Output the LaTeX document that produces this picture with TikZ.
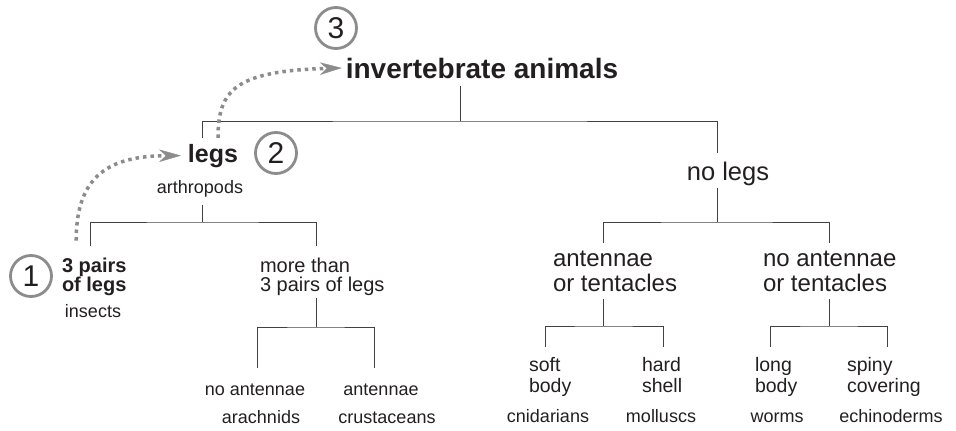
\documentclass[tikz,border=0pt]{standalone}
\usepackage{fontspec}
\setmainfont{Liberation Sans}
\usetikzlibrary{arrows.meta, positioning}
\definecolor{ink}{HTML}{231F20}
\definecolor{hint}{HTML}{8C8C8C}
\tikzstyle{every node}=[inner sep=0pt, text=ink]
\tikzstyle{tree}=[draw=ink!85, line width=0.8pt]
\tikzstyle{hop}=[draw=hint, line width=3.5pt, dash pattern=on 3.5pt off 4pt, ->]
\tikzstyle{num}=[circle, draw=hint, line width=2.8pt, minimum size=41pt, font=\fontsize{30}{30}\selectfont]
\tikzstyle{topkey}=[font=\fontsize{28}{30}\selectfont\bfseries, anchor=base]
\tikzstyle{key}=[font=\fontsize{25.5}{27}\selectfont, anchor=base]
\tikzstyle{subkey}=[font=\fontsize{24}{25}\selectfont, anchor=base west, align=left, outer sep=7.5pt]
\tikzstyle{leg}=[font=\fontsize{20}{19}\selectfont, anchor=base west, align=left]
\tikzstyle{trait}=[font=\fontsize{19.5}{21}\selectfont, anchor=base west, align=left, outer sep=10pt]
\tikzstyle{group}=[font=\fontsize{18}{20}\selectfont, anchor=base]

\begin{document}
\begin{tikzpicture}[x=1pt, y=-1pt, >={Stealth[length=22pt, width=12.5pt, inset=7pt, line width=0.4pt, fill=hint]}]
    \useasboundingbox (0,0) rectangle (956,431);
    % headings
    \node[topkey, outer sep=8pt] (inv) at (482,78) {invertebrate animals};
    \node[key, font=\fontsize{25}{27}\selectfont\bfseries, outer sep=6pt] (legs) at (213,162) {legs};
    \node[group, outer sep=8pt] (arth) at (200,193) {arthropods};
    \node[key, outer sep=3pt] (nolegs) at (728,180) {no legs};
    % legs branch (west anchors sit one outer sep left of the text)
    \node[leg, font=\fontsize{20}{19}\selectfont\bfseries, outer sep=12pt] (pairs) at (50,291) {3 pairs\\of legs};
    \node[group] (insects) at (93,317) {insects};
    \node[leg, outer sep=3pt] (more) at (257,291) {more than\\3 pairs of legs};
    \node[group, outer sep=15pt] (noant) at (255,395) {no antennae};
    \node[group, outer sep=15pt] (ant) at (381,395) {antennae};
    \node[group] (arach) at (261,423) {arachnids};
    \node[group] (crust) at (387,423) {crustaceans};
    % no legs branch
    \node[subkey] (tent) at (545.5,291) {antennae\\or tentacles};
    \node[subkey] (notent) at (755.5,291) {no antennae\\or tentacles};
    \node[trait] (soft) at (519,392) {soft\\body};
    \node[trait] (hard) at (632,392) {hard\\shell};
    \node[trait] (long) at (745,392) {long\\body};
    \node[trait] (spiny) at (837,392) {spiny\\covering};
    \node[group] (cnid) at (548,422) {cnidarians};
    \node[group] (moll) at (661,422) {molluscs};
    \node[group] (worms) at (777,422) {worms};
    \node[group] (echi) at (891,422) {echinoderms};
    % step numbers
    \node[num] (n1) at (31,276) {1};
    \node[num] (n2) at (276,153) {2};
    \node[num] (n3) at (336,28) {3};
    % forks
    \coordinate (f0) at (460,121);
    \coordinate (f1) at (202,222);
    \coordinate (f2) at (316,327);
    \coordinate (f3) at (717,222);
    \coordinate (f4) at (603,326);
    \coordinate (f5) at (829,326);
    \draw[tree] (inv.south -| f0) -- (f0);
    \draw[tree, shorten >=5.5pt] (legs.north -| f1) |- (f0) -| (nolegs.north -| f3);
    \draw[tree] (arth.south -| f1) -- (f1);
    \draw[tree, shorten >=9pt] ([xshift=-4pt]pairs.north) |- (f1) -| (more.north -| f2);
    \draw[tree] (more.south -| f2) -- (f2);
    \draw[tree] ([xshift=2pt]noant.north) |- (f2) -| ([xshift=-7pt]ant.north);
    \draw[tree] (nolegs.south -| f3) -- (f3);
    \draw[tree] (tent.north -| f4) |- (f3) -| (notent.north -| f5);
    \draw[tree] (tent.south -| f4) -- (f4);
    \draw[tree] (notent.south -| f5) -- (f5);
    \draw[tree] ([xshift=-5pt]soft.north) |- (f4) -| ([xshift=1pt]hard.north);
    \draw[tree] ([xshift=-6pt]long.north) |- (f5) -| ([xshift=4pt]spiny.north);
    % climbing up the key
    \draw[hop] ([xshift=-18pt, yshift=5pt]pairs.north) .. controls (76,175) and (110,156) .. ([xshift=-1pt]legs.west);
    \draw[hop] ([xshift=5pt]legs.north) .. controls (218,90) and (235,71) .. ([xshift=4pt]inv.west);
\end{tikzpicture}
\end{document}
